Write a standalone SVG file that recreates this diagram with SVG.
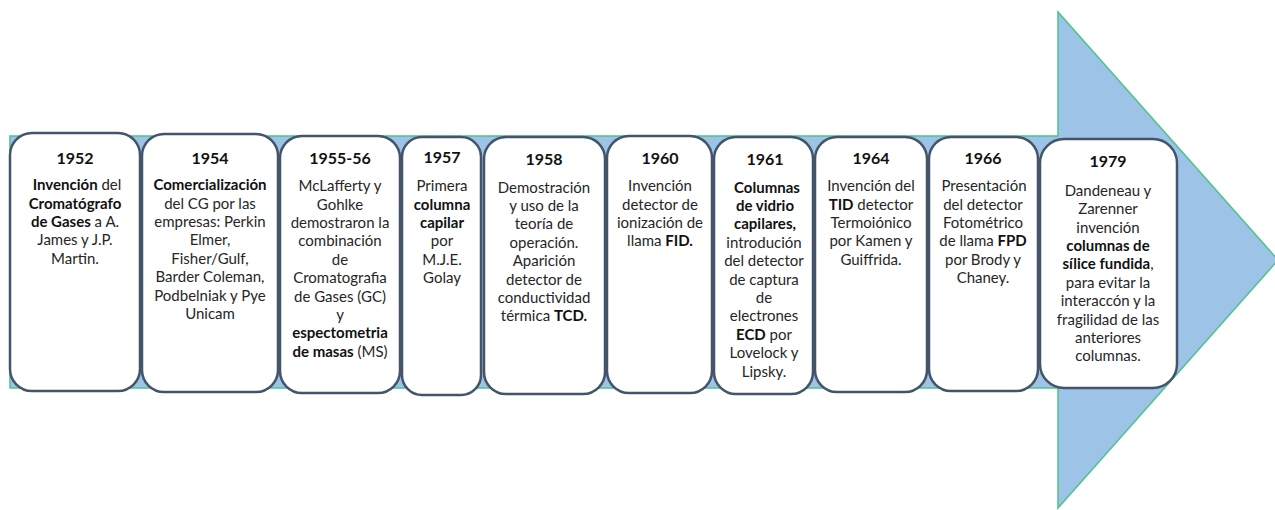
<svg xmlns="http://www.w3.org/2000/svg" width="1275" height="510" viewBox="0 0 1275 510">
<style>
.box{fill:#fff;stroke:#44546A;stroke-width:2.5}
.yr{font-family:Lato,"Liberation Sans",sans-serif;font-weight:bold;font-size:16px;fill:#111;text-anchor:middle}
.t{font-family:Lato,"Liberation Sans",sans-serif;font-size:15px;fill:#262626;text-anchor:middle}
.b{font-weight:bold;fill:#111}
</style>
<rect width="1275" height="510" fill="#fff"/>
<g id="connectors">
<polygon points="10,136 1058,136 1058,12 1278,260 1058,508 1058,388 10,388" fill="#9DC3E6" stroke="#4CC38A" stroke-width="1.5"/>
</g>
<g id="n1952">
<rect class="box" x="10" y="133" width="130" height="258" rx="22"/>
<text class="yr" x="75" y="164">1952</text>
<text class="t" x="77" y="190"><tspan class="b">Invención</tspan> del</text>
<text class="t b" x="75" y="209">Cromatógrafo</text>
<text class="t" x="75" y="227"><tspan class="b">de Gases</tspan>  a A.</text>
<text class="t" x="75" y="245">James y J.P.</text>
<text class="t" x="75" y="264">Martin.</text>
</g>
<g id="n1954">
<rect class="box" x="142" y="134" width="136" height="258" rx="22"/>
<text class="yr" x="210" y="164">1954</text>
<text class="t b" x="210" y="190">Comercialización</text>
<text class="t" x="210" y="209">del CG por las</text>
<text class="t" x="210" y="227">empresas: Perkin</text>
<text class="t" x="210" y="245">Elmer,</text>
<text class="t" x="210" y="264">Fisher/Gulf,</text>
<text class="t" x="210" y="282">Barder Coleman,</text>
<text class="t" x="210" y="301">Podbelniak y Pye</text>
<text class="t" x="210" y="319">Unicam</text>
</g>
<g id="n1955">
<rect class="box" x="280" y="136" width="120" height="257" rx="22"/>
<text class="yr" x="340" y="164">1955-56</text>
<text class="t" x="340" y="191">McLafferty y</text>
<text class="t" x="340" y="210">Gohlke</text>
<text class="t" x="340" y="228">demostraron la</text>
<text class="t" x="340" y="246">combinación</text>
<text class="t" x="340" y="265">de</text>
<text class="t" x="340" y="283">Cromatografia</text>
<text class="t" x="340" y="302">de Gases (GC)</text>
<text class="t" x="340" y="320">y</text>
<text class="t b" x="340" y="338">espectometria</text>
<text class="t" x="340" y="357"><tspan class="b">de masas</tspan> (MS)</text>
</g>
<g id="n1957">
<rect class="box" x="402" y="137" width="79" height="258" rx="20"/>
<text class="yr" x="442" y="163">1957</text>
<text class="t" x="442" y="191">Primera</text>
<text class="t b" x="442" y="210">columna</text>
<text class="t b" x="442" y="228">capilar</text>
<text class="t" x="442" y="246">por</text>
<text class="t" x="442" y="265">M.J.E.</text>
<text class="t" x="442" y="283">Golay</text>
</g>
<g id="n1958">
<rect class="box" x="484" y="137" width="121" height="257" rx="22"/>
<text class="yr" x="544" y="165">1958</text>
<text class="t" x="544" y="193">Demostración</text>
<text class="t" x="544" y="211">y uso de la</text>
<text class="t" x="544" y="229">teoría de</text>
<text class="t" x="544" y="248">operación.</text>
<text class="t" x="544" y="266">Aparición</text>
<text class="t" x="544" y="285">detector de</text>
<text class="t" x="544" y="303">conductividad</text>
<text class="t" x="544" y="321">térmica <tspan class="b">TCD.</tspan></text>
</g>
<g id="n1960">
<rect class="box" x="607" y="136" width="105" height="257" rx="22"/>
<text class="yr" x="660" y="164">1960</text>
<text class="t" x="660" y="191">Invención</text>
<text class="t" x="660" y="210">detector de</text>
<text class="t" x="660" y="228">ionización de</text>
<text class="t" x="660" y="246">llama <tspan class="b">FID.</tspan></text>
</g>
<g id="n1961">
<rect class="box" x="714" y="137" width="99" height="257" rx="22"/>
<text class="yr" x="765" y="165">1961</text>
<text class="t b" x="767" y="193">Columnas</text>
<text class="t b" x="765" y="211">de vidrio</text>
<text class="t b" x="765" y="229">capilares,</text>
<text class="t" x="764" y="248">introdución</text>
<text class="t" x="764" y="266">del detector</text>
<text class="t" x="764" y="285">de captura</text>
<text class="t" x="764" y="303">de</text>
<text class="t" x="764" y="321">electrones</text>
<text class="t" x="764" y="340"><tspan class="b">ECD</tspan> por</text>
<text class="t" x="764" y="358">Lovelock y</text>
<text class="t" x="764" y="377">Lipsky.</text>
</g>
<g id="n1964">
<rect class="box" x="815" y="137" width="112" height="255" rx="22"/>
<text class="yr" x="871" y="164">1964</text>
<text class="t" x="871" y="191">Invención del</text>
<text class="t" x="871" y="210"><tspan class="b">TID</tspan> detector</text>
<text class="t" x="871" y="228">Termoiónico</text>
<text class="t" x="871" y="246">por Kamen y</text>
<text class="t" x="871" y="265">Guiffrida.</text>
</g>
<g id="n1966">
<rect class="box" x="929" y="137" width="109" height="254" rx="22"/>
<text class="yr" x="983" y="164">1966</text>
<text class="t" x="984" y="191">Presentación</text>
<text class="t" x="983" y="210">del detector</text>
<text class="t" x="983" y="228">Fotométrico</text>
<text class="t" x="983" y="246">de llama <tspan class="b">FPD</tspan></text>
<text class="t" x="983" y="265">por Brody y</text>
<text class="t" x="983" y="283">Chaney.</text>
</g>
<g id="n1979">
<rect class="box" x="1040" y="139" width="137" height="249" rx="24"/>
<text class="yr" x="1108" y="167">1979</text>
<text class="t" x="1108" y="196">Dandeneau y</text>
<text class="t" x="1108" y="214">Zarenner</text>
<text class="t" x="1108" y="233">invención</text>
<text class="t b" x="1108" y="251">columnas de</text>
<text class="t" x="1108" y="269"><tspan class="b">sílice fundida</tspan>,</text>
<text class="t" x="1108" y="288">para evitar la</text>
<text class="t" x="1108" y="306">interaccón y la</text>
<text class="t" x="1108" y="325">fragilidad de las</text>
<text class="t" x="1108" y="343">anteriores</text>
<text class="t" x="1108" y="361">columnas.</text>
</g>
</svg>
